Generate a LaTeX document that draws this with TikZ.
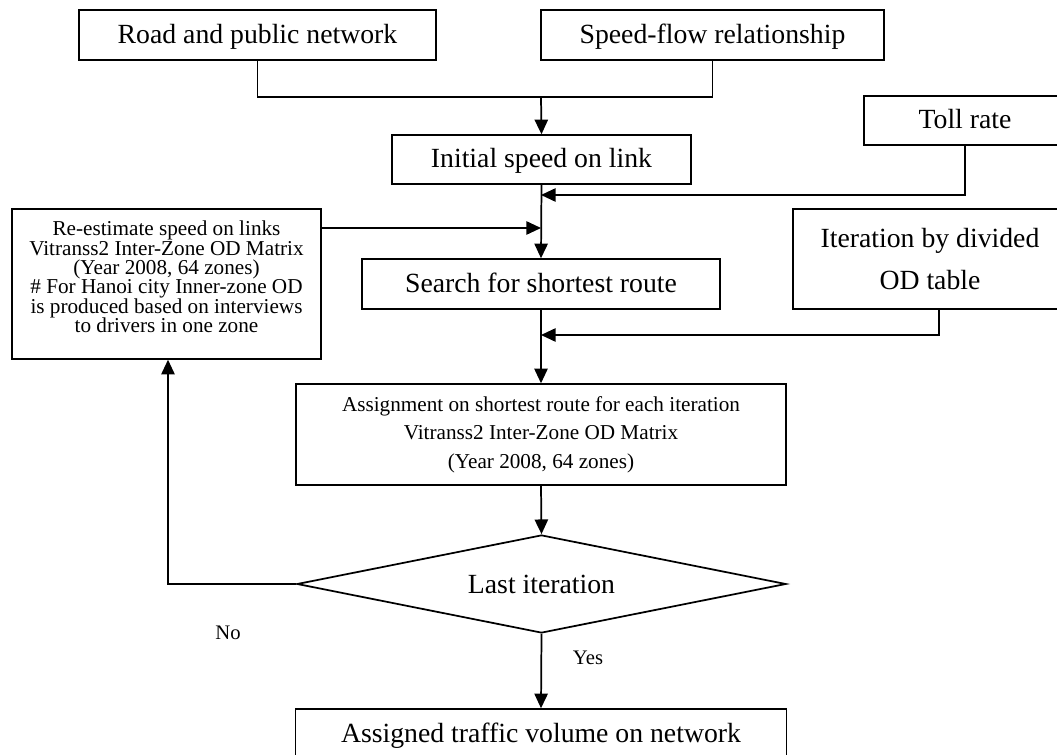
\documentclass[tikz,border=0pt]{standalone}
\usepackage{fontspec}
\setmainfont{Liberation Serif}
\usetikzlibrary{shapes.geometric,arrows.meta}

\begin{document}
\begin{tikzpicture}[x=0.75pt,y=-0.75pt,
  stagebox/.style={draw,line width=1.1pt,inner sep=0pt,align=center,
    font=\fontsize{20.8}{25}\selectfont},
  oneline/.style={text height=15.5pt,text depth=3pt},
  notebox/.style={draw,line width=1.1pt,inner sep=0pt,align=center},
  decision/.style={draw,diamond,aspect=5,line width=1.3pt,inner sep=0pt,
    font=\fontsize{20.8}{25}\selectfont},
  link/.style={line width=1.3pt},
  flow/.style={line width=1.3pt,-{Triangle[length=11pt,width=10pt]}},
  answer/.style={font=\fontsize{15.5}{18}\selectfont}]

\useasboundingbox (0,0) rectangle (1057,755);
\clip (0,0) rectangle (1057,755);

% input boxes
\node[stagebox,oneline,minimum width=267.75pt,minimum height=37.5pt] (road) at (257.5,35) {Road and public network};
\node[stagebox,oneline,minimum width=257.25pt,minimum height=37.5pt] (speed) at (712.5,35) {Speed-flow relationship};
\node[stagebox,oneline,minimum width=224.25pt,minimum height=36.75pt] (init) at (541.5,159.5) {Initial speed on link};
\node[stagebox,oneline,minimum width=151.5pt,minimum height=36.75pt] (toll) at (965,120.5) {Toll rate};

% loop body
\node[notebox,minimum width=231.75pt,minimum height=112.5pt] (reest) at (166.5,284) {};
\node[align=center,inner sep=0pt,font=\fontsize{15.9}{14.6}\selectfont] (reesttext) at (166.5,277)
  {Re-estimate speed on links\\Vitranss2 Inter-Zone OD Matrix\\(Year 2008, 64 zones)\\
   \# For Hanoi city Inner-zone OD\\is produced based on interviews\\to drivers in one zone};
\node[stagebox,oneline,minimum width=268.5pt,minimum height=37.5pt] (search) at (541,284) {Search for shortest route};
\node[stagebox,minimum width=205.5pt,minimum height=75pt,
  font=\fontsize{20.8}{31}\selectfont] (iter) at (930,259) {Iteration by divided\\OD table};
\node[notebox,minimum width=367.5pt,minimum height=75.75pt,
  font=\fontsize{15.9}{21.4}\selectfont] (assign) at (541,434.5)
  {Assignment on shortest route for each iteration\\Vitranss2 Inter-Zone OD Matrix\\(Year 2008, 64 zones)};
\node[decision,minimum width=366.75pt,minimum height=73.5pt] (last) at (541.5,584) {Last iteration};
\node[stagebox,oneline,minimum width=368.25pt,minimum height=37.5pt] (result) at (541,734) {Assigned traffic volume on network};

% junction points on the main column
\coordinate (jtop) at (541,97);
\coordinate (jtoll) at (541,195);
\coordinate (jre) at (541,228);
\coordinate (jiter) at (541,335);
\coordinate (itertap) at (939,309);
\coordinate (nocorner) at (168,584);

% connectors
\draw[link] (road.south) |- (jtop) -| (speed.south);
\draw[flow] (jtop) -- (init.north);
\draw[flow] (toll.south) |- (jtoll);
\draw[flow] (init.south) -- (search.north);
\draw[flow] (reest.east |- jre) -- (jre);
\draw[flow] (itertap) |- (jiter);
\draw[flow] (search.south) -- (assign.north);
\draw[flow] (assign.south) -- (last.north);
\draw[flow] (last.west) -- (nocorner) -- (nocorner |- reest.south);
\draw[flow] (last.south) -- (result.north);

% branch labels
\node[answer] (no) at (228,633) {No};
\node[answer] (yes) at (588,658) {Yes};
\end{tikzpicture}
\end{document}
